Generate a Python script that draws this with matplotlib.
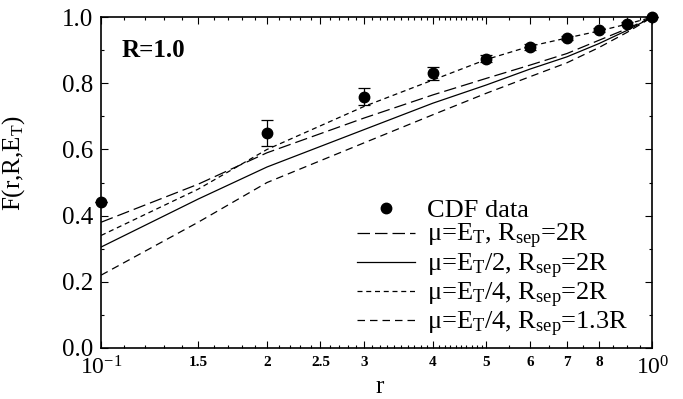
import numpy as np
import matplotlib
matplotlib.use("Agg")
import matplotlib.pyplot as plt
from matplotlib.lines import Line2D

plt.rcParams['font.family'] = ['Liberation Serif', 'DejaVu Serif']
plt.rcParams['mathtext.fontset'] = 'custom'
plt.rcParams['mathtext.rm'] = 'Liberation Serif'
plt.rcParams['mathtext.it'] = 'Liberation Serif:italic'
plt.rcParams['mathtext.bf'] = 'Liberation Serif:bold'

# --- data ---
r_data = [0.1, 0.2, 0.3, 0.4, 0.5, 0.6, 0.7, 0.8, 0.9, 1.0]
F_data = [0.44, 0.65, 0.76, 0.83, 0.875, 0.91, 0.937, 0.96, 0.98, 1.0]
F_err = [0.0, 0.04, 0.027, 0.02, 0.01, 0.008, 0.007, 0.006, 0.005, 0.0]

r_curve = [0.1, 0.15, 0.2, 0.3, 0.4, 0.5, 0.6, 0.7, 0.8, 0.9, 1.0]
F_ET_2R = [0.38, 0.495, 0.59, 0.695, 0.765, 0.815, 0.855, 0.89, 0.93, 0.965, 1.0]
F_ET2_2R = [0.305, 0.45, 0.547, 0.66, 0.74, 0.795, 0.843, 0.88, 0.92, 0.96, 1.0]
F_ET4_2R = [0.34, 0.48, 0.60, 0.73, 0.81, 0.872, 0.912, 0.937, 0.958, 0.979, 1.0]
F_ET4_13R = [0.22, 0.38, 0.50, 0.62, 0.705, 0.77, 0.82, 0.862, 0.908, 0.954, 1.0]

xtick_vals = [0.1, 0.15, 0.2, 0.25, 0.3, 0.4, 0.5, 0.6, 0.7, 0.8, 1.0]
xtick_labels = [r'$10^{-1}$', '1.5', '2', '2.5', '3', '4', '5', '6', '7', '8', r'$10^{0}$']
ytick_vals = [0.0, 0.2, 0.4, 0.6, 0.8, 1.0]

labels = ['CDF data',
          r'μ=E$_{\mathrm{T}}$, R$_{\mathrm{sep}}$=2R',
          r'μ=E$_{\mathrm{T}}$/2, R$_{\mathrm{sep}}$=2R',
          r'μ=E$_{\mathrm{T}}$/4, R$_{\mathrm{sep}}$=2R',
          r'μ=E$_{\mathrm{T}}$/4, R$_{\mathrm{sep}}$=1.3R']

fig = plt.figure(figsize=(6.83, 3.99), dpi=100)
ax = fig.add_axes([0.148, 0.128, 0.807, 0.829])

l1, = ax.plot(r_curve, F_ET_2R, color='black', lw=0.9, dashes=(10, 4))
l2, = ax.plot(r_curve, F_ET2_2R, color='black', lw=0.9, ls='-')
l3, = ax.plot(r_curve, F_ET4_2R, color='black', lw=0.9, dashes=(4, 3))
l4, = ax.plot(r_curve, F_ET4_13R, color='black', lw=0.9, dashes=(6, 4))
ax.errorbar(r_data, F_data, yerr=F_err, fmt='o', color='black', ms=7.5,
            elinewidth=0.9, capsize=4, capthick=0.9, clip_on=False, zorder=5)
dot = Line2D([], [], ls='none', marker='o', color='black', ms=7.5)

ax.set_xscale('log')
ax.set_xlim(0.1, 1.0)
ax.set_ylim(0.0, 1.0)

ax.set_xticks(xtick_vals)
ax.set_xticklabels(xtick_labels)
minor = [v / 100 for v in range(10, 50)] + [v / 100 for v in range(50, 100, 5)]
ax.set_xticks(minor, minor=True)
ax.xaxis.set_minor_formatter(matplotlib.ticker.NullFormatter())
for lab, v in zip(ax.get_xticklabels(), xtick_vals):
    if v in (0.1, 1.0):
        lab.set_fontsize(17)
    else:
        lab.set_fontsize(11)
        lab.set_fontweight('bold')

ax.set_yticks(ytick_vals)
ax.set_yticklabels(['0.0', '0.2', '0.4', '0.6', '0.8', '1.0'], fontsize=18)
ax.set_yticks(np.arange(0.1, 1.0, 0.2), minor=True)

ax.tick_params(which='both', direction='in', top=True, right=True, width=0.8)
ax.tick_params(which='major', length=5, pad=6)
ax.tick_params(which='minor', length=2.5)
for s in ax.spines.values():
    s.set_linewidth(1.2)

ax.set_xlabel('r', fontsize=18)
ax.xaxis.set_label_coords(0.505, -0.085)
ax.set_ylabel(r'F(r,R,E$_{\mathrm{T}}$)', fontsize=18)
ax.yaxis.set_label_coords(-0.135, 0.56)

ax.text(0.038, 0.9, 'R=1.0', transform=ax.transAxes, fontsize=18,
        fontweight='bold', va='center', ha='left')

leg = ax.legend([dot, l1, l2, l3, l4], labels,
                loc='lower right', bbox_to_anchor=(0.985, -0.02), frameon=False,
                fontsize=19, handlelength=2.2, handletextpad=0.45,
                labelspacing=0.0, borderaxespad=0.2)

fig.savefig('out.png', dpi=100)
